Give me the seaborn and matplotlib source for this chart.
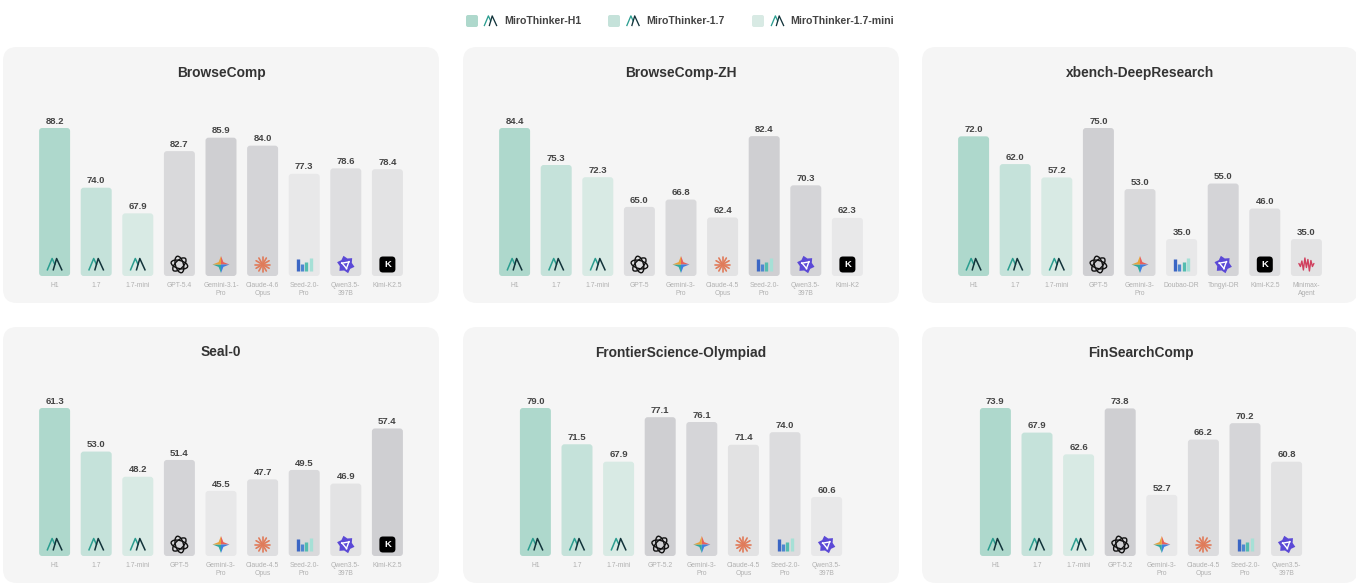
import numpy as np
import pandas as pd
import seaborn as sns
import matplotlib.pyplot as plt
from matplotlib.patches import FancyBboxPatch, Ellipse, Polygon

# values
browse_names = ['H1', '1.7', '1.7-mini', 'GPT-5.4', 'Gemini-3.1-\nPro', 'Claude-4.6\nOpus', 'Seed-2.0-\nPro', 'Qwen3.5-\n397B', 'Kimi-K2.5']
browse_vals = [88.2, 74.0, 67.9, 82.7, 85.9, 84.0, 77.3, 78.6, 78.4]
zh_names = ['H1', '1.7', '1.7-mini', 'GPT-5', 'Gemini-3-\nPro', 'Claude-4.5\nOpus', 'Seed-2.0-\nPro', 'Qwen3.5-\n397B', 'Kimi-K2']
zh_vals = [84.4, 75.3, 72.3, 65.0, 66.8, 62.4, 82.4, 70.3, 62.3]
xbench_names = ['H1', '1.7', '1.7-mini', 'GPT-5', 'Gemini-3-\nPro', 'Doubao-DR', 'Tongyi-DR', 'Kimi-K2.5', 'Minimax-\nAgent']
xbench_vals = [72.0, 62.0, 57.2, 75.0, 53.0, 35.0, 55.0, 46.0, 35.0]
seal_names = ['H1', '1.7', '1.7-mini', 'GPT-5', 'Gemini-3-\nPro', 'Claude-4.5\nOpus', 'Seed-2.0-\nPro', 'Qwen3.5-\n397B', 'Kimi-K2.5']
seal_vals = [61.3, 53.0, 48.2, 51.4, 45.5, 47.7, 49.5, 46.9, 57.4]
front_names = ['H1', '1.7', '1.7-mini', 'GPT-5.2', 'Gemini-3-\nPro', 'Claude-4.5\nOpus', 'Seed-2.0-\nPro', 'Qwen3.5-\n397B']
front_vals = [79.0, 71.5, 67.9, 77.1, 76.1, 71.4, 74.0, 60.6]
fin_names = ['H1', '1.7', '1.7-mini', 'GPT-5.2', 'Gemini-3-\nPro', 'Claude-4.5\nOpus', 'Seed-2.0-\nPro', 'Qwen3.5-\n397B']
fin_vals = [73.9, 67.9, 62.6, 73.8, 52.7, 66.2, 70.2, 60.8]

# title, names, values, value at the bar foot, panel left, panel top, x centre
panels = [
    ('BrowseComp', browse_names, browse_vals, 53.0, 3, 47, 221),
    ('BrowseComp-ZH', zh_names, zh_vals, 48.0, 463, 47, 681),
    ('xbench-DeepResearch', xbench_names, xbench_vals, 21.7, 922, 47, 1140),
    ('Seal-0', seal_names, seal_vals, 33.1, 3, 327, 221),
    ('FrontierScience-Olympiad', front_names, front_vals, 48.4, 463, 327, 681),
    ('FinSearchComp', fin_names, fin_vals, 37.8, 922, 327, 1141),
]

W, H = 1356, 583
STEP = 41.6
TEAL = ['#AED8CC', '#C5E2DA', '#D8EAE4']
LEGEND = ['MiroThinker-H1', 'MiroThinker-1.7', 'MiroThinker-1.7-mini']

sns.set_theme(style='white')
plt.rcParams['font.family'] = ['Liberation Sans', 'DejaVu Sans']

fig = plt.figure(figsize=(W / 100, H / 100), dpi=100)
back = fig.add_axes([0, 0, 1, 1], zorder=0)
front = fig.add_axes([0, 0, 1, 1], zorder=5)
for a in (back, front):
    a.set_xlim(0, W)
    a.set_ylim(H, 0)
    a.axis('off')
    a.patch.set_alpha(0)


def m_logo(cx, cy, s=1.0):
    front.plot([cx - 7.5 * s, cx - 2.5 * s, cx + 0.5 * s], [cy + 6 * s, cy - 6 * s, cy + 0.5 * s], color='#2A9D8F', lw=1.1 * s, solid_capstyle='butt')
    front.plot([cx - 1.5 * s, cx + 2 * s, cx + 7.5 * s], [cy + 6 * s, cy - 6 * s, cy + 6 * s], color='#12333A', lw=1.1 * s, solid_capstyle='butt')


def gpt_logo(cx, cy):
    for ang in (0, 60, 120):
        front.add_patch(Ellipse((cx, cy), 17, 8, angle=ang + 15, fill=False, ec='#111111', lw=1.0))


def gemini_logo(cx, cy):
    r, k = 8.5, 2.4
    colors = ['#E8605A', '#3F7FE0', '#2FA8A0', '#E8A23C']
    tips = [(0, -r), (r, 0), (0, r), (-r, 0)]
    for i in range(4):
        a, b = tips[i], tips[(i + 1) % 4]
        mid = (np.sign(a[0] + b[0]) * k, np.sign(a[1] + b[1]) * k)
        pts = [(cx, cy), (cx + a[0], cy + a[1]), (cx + mid[0], cy + mid[1]), (cx + b[0], cy + b[1])]
        front.add_patch(Polygon(pts, fc=colors[i], ec='none'))


def claude_logo(cx, cy):
    for ang in np.arange(0, 360, 30):
        c, s = np.cos(np.radians(ang)), np.sin(np.radians(ang))
        front.plot([cx, cx + 7.5 * c], [cy, cy + 7.5 * s], color='#E07B5A', lw=1.2, solid_capstyle='round')


def seed_logo(cx, cy):
    for dx, h, col in [(-6.5, 12, '#3B66C4'), (-2.2, 7, '#4E86D0'), (2.2, 9, '#55BDB0'), (6.5, 13, '#A6E0D6')]:
        front.plot([cx + dx, cx + dx], [cy + 6, cy + 6 - h], color=col, lw=2.4, solid_capstyle='butt')


def qwen_logo(cx, cy):
    outer = []
    for i in range(12):
        r = 9 if i % 2 == 0 else 6.2
        t = np.radians(30 * i + 15)
        outer.append((cx + r * np.cos(t), cy + r * np.sin(t)))
    front.add_patch(Polygon(outer, fc='#5B49D6', ec='none'))
    for t in (20, 140, 260):
        c, s = np.cos(np.radians(t)), np.sin(np.radians(t))
        front.plot([cx - 4 * s + 2 * c, cx + 4 * s + 2 * c], [cy + 4 * c + 2 * s, cy - 4 * c + 2 * s], color='white', lw=1.0)


def kimi_logo(cx, cy):
    front.add_patch(FancyBboxPatch((cx - 6.5, cy - 6.5), 13, 13, boxstyle='round,pad=1.5,rounding_size=3.5', fc='black', ec='none'))
    front.text(cx, cy + 0.3, 'K', color='white', fontsize=6.8, fontweight='bold', ha='center', va='center')


def minimax_logo(cx, cy):
    dxs = np.arange(-7.5, 8, 1.5)
    hs = [2, 4, 7, 11, 13, 6, 10, 13, 8, 4, 2]
    ys = [cy + (h / 2 if k % 2 else -h / 2) for k, h in enumerate(hs)]
    front.plot(cx + dxs, ys, color='#D0405E', lw=1.0, solid_joinstyle='round')


def draw_icon(name, cx, cy):
    if name in ('H1', '1.7', '1.7-mini'):
        m_logo(cx, cy)
    elif name.startswith('GPT'):
        gpt_logo(cx, cy)
    elif name.startswith('Gemini'):
        gemini_logo(cx, cy)
    elif name.startswith('Claude'):
        claude_logo(cx, cy)
    elif name.startswith('Seed') or name.startswith('Doubao'):
        seed_logo(cx, cy)
    elif name.startswith('Qwen') or name.startswith('Tongyi'):
        qwen_logo(cx, cy)
    elif name.startswith('Kimi'):
        kimi_logo(cx, cy)
    elif name.startswith('Minimax'):
        minimax_logo(cx, cy)


def bar_colors(vals):
    """teal for our three models, other ones darker grey the higher they score"""
    others = vals[3:]
    order = np.argsort(np.argsort(others)[::-1])
    shades = np.linspace(0, 1, len(others))
    dark, light = np.array([0xCF, 0xCF, 0xD2]), np.array([0xE8, 0xE8, 0xE9])
    cols = list(TEAL)
    for rank in order:
        cols.append(tuple((dark + (light - dark) * shades[rank]) / 255))
    return cols


for title, names, vals, foot, left, top, xc in panels:
    back.add_patch(FancyBboxPatch((left + 14, top + 14), 408, 228, boxstyle='round,pad=14,rounding_size=14', fc='#F5F5F5', ec='none'))
    back.text(xc, top + 25.5, title, ha='center', va='center', fontsize=9.9, fontweight='bold', color='#333333')

    n = len(names)
    base_px = top + 229
    ax = fig.add_axes([(xc - n * STEP / 2) / W, (H - base_px) / H, n * STEP / W, 148 / H], zorder=2)
    df = pd.DataFrame({'name': names, 'value': vals})
    sns.barplot(data=df, x='name', y='value', hue='name', palette=bar_colors(vals), saturation=1, width=0.745, legend=False, ax=ax)
    ax.set_ylim(foot, max(vals))
    ax.set_xlim(-0.5, n - 0.5)
    ax.set_xlabel('')
    ax.set_ylabel('')
    ax.set_yticks([])
    ax.patch.set_alpha(0)
    sns.despine(ax=ax, left=True, bottom=True)
    ax.tick_params(axis='x', length=0, pad=4.2, labelsize=4.9, labelcolor='#B0B0B0')
    for lab in ax.get_xticklabels():
        lab.set_linespacing(1.25)

    aspect = (max(vals) - foot) / 148 * STEP
    for cont in ax.containers:
        ax.bar_label(cont, fmt='%.1f', padding=1.7, fontsize=6.8, fontweight='bold', color='#444444')
        for r in cont:
            if np.isnan(r.get_height()):
                continue
            # rounded version of the seaborn bar
            x, w, h = r.get_x(), r.get_width(), r.get_height()
            rad = 3 / STEP
            ax.add_patch(FancyBboxPatch((x + rad, foot + rad * aspect), w - 2 * rad, h - foot - 2 * rad * aspect,
                                        boxstyle=f'round,pad={rad},rounding_size={rad}', mutation_aspect=aspect,
                                        fc=r.get_facecolor(), ec='none'))
            r.set_visible(False)

    for i, name in enumerate(names):
        px = ax.transData.transform((i, foot))
        draw_icon(name, px[0], H - px[1] - 11.5)

# legend row on top
for label, col, sx, lx, tx in zip(LEGEND, TEAL, [466, 608, 752], [490.5, 633, 777.5], [504, 646, 790]):
    front.add_patch(FancyBboxPatch((sx + 2, 17), 8, 8, boxstyle='round,pad=2,rounding_size=2', fc=col, ec='none'))
    m_logo(lx, 21, 0.85)
    front.text(tx, 21, label, ha='left', va='center', fontsize=7.6, fontweight='bold', color='#444444')

fig.savefig('out.png', dpi=100)
